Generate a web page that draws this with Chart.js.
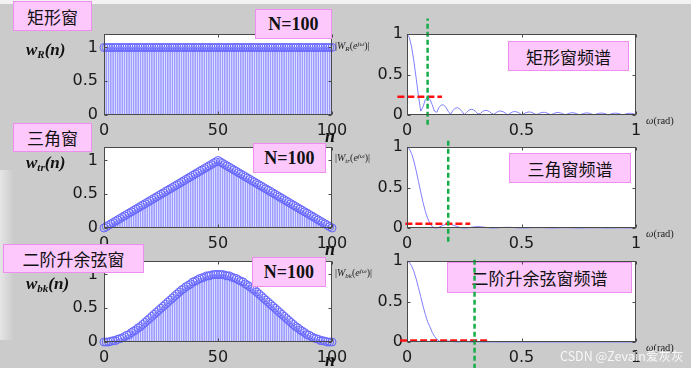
<!DOCTYPE html>
<html><head><meta charset="utf-8">
<script src="https://cdn.jsdelivr.net/npm/chart.js@4.4.1/dist/chart.umd.min.js"></script>
<style>
html{margin:0;padding:0;background:#cbcbcb;overflow:hidden;}
body{margin:0;padding:0;width:691px;height:368px;position:relative;overflow:hidden;background:#cbcbcb;}
.topstrip{position:absolute;left:0;top:0;width:691px;height:4px;background:#f2f2f2;z-index:0;}
.leftpale{position:absolute;left:0;top:170px;width:14px;height:170px;background:linear-gradient(to right,rgba(255,255,255,0.5),rgba(255,255,255,0));z-index:0;}
.plotbg{position:absolute;background:#fff;z-index:1;}
canvas{position:absolute;z-index:3;}
.box{position:absolute;background:#fdc9fd;border:1.5px solid #f08ef0;box-sizing:border-box;display:flex;align-items:center;justify-content:center;color:#111;white-space:nowrap;}
.hi{z-index:5;}
.lo{z-index:2;}
.cn{font-family:"Noto Sans CJK SC";font-size:17px;}
.nb{font-family:"Liberation Serif";font-weight:bold;font-size:18px;}
.wl{position:absolute;z-index:5;font-family:"Liberation Serif";font-weight:bold;font-style:italic;font-size:17px;line-height:20px;color:#111;white-space:nowrap;}
.wl sub{font-size:11px;vertical-align:-3px;}
.nl{position:absolute;z-index:5;font-family:"Liberation Serif";font-weight:bold;font-style:italic;font-size:18px;line-height:18px;color:#111;}
.yl{position:absolute;z-index:5;font-family:"Liberation Serif";font-size:10px;line-height:12px;color:#222;white-space:nowrap;}
.yl sub,.yl sup{font-size:7px;}
.yl sub{vertical-align:-2px;}
.yl sup{vertical-align:3px;}
.om{position:absolute;z-index:5;font-family:"Liberation Serif";font-size:10.5px;line-height:12px;color:#222;white-space:nowrap;}
.wm{position:absolute;z-index:6;font-family:"Noto Sans CJK SC";font-size:12.5px;color:rgba(255,255,255,0.85);white-space:nowrap;left:560px;top:346px;}
.bot{position:absolute;left:0;top:343px;width:691px;height:25px;background:#cbcbcb;z-index:0;}
</style></head>
<body>
<div class="topstrip"></div>
<div class="bot"></div>
<div class="leftpale"></div>

<div class="box hi cn" style="left:13px;top:1px;width:79px;height:30px;">矩形窗</div>
<div class="box hi nb" style="left:255px;top:9px;width:77px;height:30px;">N=100</div>
<div class="box hi cn" style="left:13px;top:123px;width:79px;height:29px;">三角窗</div>
<div class="box hi nb" style="left:253px;top:143px;width:73px;height:30px;">N=100</div>
<div class="box hi cn" style="left:3px;top:244px;width:141px;height:29px;">二阶升余弦窗</div>
<div class="box hi nb" style="left:252px;top:257px;width:74px;height:30px;">N=100</div>
<div class="box lo cn" style="left:508px;top:41px;width:121px;height:30px;">矩形窗频谱</div>
<div class="box lo cn" style="left:509px;top:153px;width:122px;height:30px;">三角窗频谱</div>
<div class="box lo cn" style="left:447px;top:262px;width:185px;height:31px;">二阶升余弦窗频谱</div>

<div class="wl" style="left:26px;top:40px;"><span>w</span><sub>R</sub>(n)</div>
<div class="wl" style="left:26px;top:153px;"><span>w</span><sub>tr</sub>(n)</div>
<div class="wl" style="left:26px;top:274px;"><span>w</span><sub>bk</sub>(n)</div>

<div class="nl" style="left:325px;top:127px;">n</div>
<div class="nl" style="left:325px;top:240px;">n</div>
<div class="nl" style="left:325px;top:351px;">n</div>

<div class="yl" style="left:335px;top:38px;">|<i>W</i><sub><i>R</i></sub>(<i>e</i><sup><i>jω</i></sup>)|</div>
<div class="yl" style="left:335px;top:150px;">|<i>W</i><sub><i>tr</i></sub>(<i>e</i><sup><i>jω</i></sup>)|</div>
<div class="yl" style="left:335px;top:265px;">|<i>W</i><sub><i>bk</i></sub>(<i>e</i><sup><i>jω</i></sup>)|</div>

<div class="om" style="left:646px;top:115px;"><i>ω</i>(rad)</div>
<div class="om" style="left:646px;top:228px;"><i>ω</i>(rad)</div>
<div class="om" style="left:646px;top:342px;"><i>ω</i>(rad)</div>

<div class="wm">CSDN @Zevain爱灰灰</div>

<script>
// ---------------- DATA ----------------
const n = [0,1,2,3,4,5,6,7,8,9,10,11,12,13,14,15,16,17,18,19,20,21,22,23,24,25,26,27,28,29,30,31,32,33,34,35,36,37,38,39,40,41,42,43,44,45,46,47,48,49,50,51,52,53,54,55,56,57,58,59,60,61,62,63,64,65,66,67,68,69,70,71,72,73,74,75,76,77,78,79,80,81,82,83,84,85,86,87,88,89,90,91,92,93,94,95,96,97,98,99,100];

const rectWin = [1,1,1,1,1,1,1,1,1,1,1,1,1,1,1,1,1,1,1,1,1,1,1,1,1,1,1,1,1,1,1,1,1,1,1,1,1,1,1,1,1,1,1,1,1,1,1,1,1,1,1,1,1,1,1,1,1,1,1,1,1,1,1,1,1,1,1,1,1,1,1,1,1,1,1,1,1,1,1,1,1,1,1,1,1,1,1,1,1,1,1,1,1,1,1,1,1,1,1,1,1];

const triWin = [0,0.02,0.04,0.06,0.08,0.10,0.12,0.14,0.16,0.18,0.20,0.22,0.24,0.26,0.28,0.30,0.32,0.34,0.36,0.38,0.40,0.42,0.44,0.46,0.48,0.50,0.52,0.54,0.56,0.58,0.60,0.62,0.64,0.66,0.68,0.70,0.72,0.74,0.76,0.78,0.80,0.82,0.84,0.86,0.88,0.90,0.92,0.94,0.96,0.98,1.00,
0.98,0.96,0.94,0.92,0.90,0.88,0.86,0.84,0.82,0.80,0.78,0.76,0.74,0.72,0.70,0.68,0.66,0.64,0.62,0.60,0.58,0.56,0.54,0.52,0.50,0.48,0.46,0.44,0.42,0.40,0.38,0.36,0.34,0.32,0.30,0.28,0.26,0.24,0.22,0.20,0.18,0.16,0.14,0.12,0.10,0.08,0.06,0.04,0.02,0];

const hannWin = [0.00,0.00,0.00,0.01,0.02,0.02,0.04,0.05,0.06,0.08,0.10,0.11,0.14,0.16,0.18,0.21,0.23,0.26,0.29,0.32,0.35,0.38,0.41,0.44,0.47,0.50,0.53,0.56,0.59,0.62,0.65,0.68,0.71,0.74,0.77,0.79,0.82,0.84,0.86,0.89,0.90,0.92,0.94,0.95,0.96,0.98,0.98,0.99,1.00,1.00,1.00,
1.00,1.00,0.99,0.98,0.98,0.96,0.95,0.94,0.92,0.90,0.89,0.86,0.84,0.82,0.79,0.77,0.74,0.71,0.68,0.65,0.62,0.59,0.56,0.53,0.50,0.47,0.44,0.41,0.38,0.35,0.32,0.29,0.26,0.23,0.21,0.18,0.16,0.14,0.11,0.10,0.08,0.06,0.05,0.04,0.02,0.02,0.01,0.00,0.00,0.00];

const omega = [0,0.01,0.02,0.03,0.04,0.05,0.06,0.07,0.08,0.09,0.10,0.11,0.12,0.13,0.14,0.15,0.16,0.17,0.18,0.19,0.20,0.21,0.22,0.23,0.24,0.25,0.26,0.27,0.28,0.29,0.30,0.31,0.32,0.33,0.34,0.35,0.36,0.37,0.38,0.39,0.40,0.41,0.42,0.43,0.44,0.45,0.46,0.47,0.48,0.49,0.50,0.51,0.52,0.53,0.54,0.55,0.56,0.57,0.58,0.59,0.60,0.61,0.62,0.63,0.64,0.65,0.66,0.67,0.68,0.69,0.70,0.71,0.72,0.73,0.74,0.75,0.76,0.77,0.78,0.79,0.80,0.81,0.82,0.83,0.84,0.85,0.86,0.87,0.88,0.89,0.90,0.91,0.92,0.93,0.94,0.95,0.96,0.97,0.98,0.99,1.00];

const rectSpec = [1.000,0.959,0.841,0.665,0.455,0.239,0.047,0.100,0.189,0.217,
0.192,0.128,0.047,0.033,0.094,0.125,0.124,0.094,0.046,0.008,
0.054,0.084,0.091,0.076,0.045,0.005,0.032,0.060,0.071,0.064,
0.043,0.013,0.018,0.043,0.057,0.056,0.042,0.018,0.008,0.031,
0.046,0.049,0.040,0.022,0.000,0.022,0.037,0.043,0.038,0.024,
0.005,0.014,0.030,0.037,0.036,0.026,0.010,0.008,0.023,0.032,
0.033,0.026,0.013,0.003,0.018,0.028,0.031,0.026,0.016,0.002,
0.012,0.023,0.028,0.026,0.018,0.005,0.008,0.019,0.025,0.025,
0.019,0.008,0.004,0.015,0.022,0.024,0.020,0.011,0.000,0.012,
0.020,0.023,0.020,0.013,0.003,0.008,0.017,0.021,0.020,0.015,
0.005];

const triSpec = [1.000,0.979,0.919,0.826,0.708,0.576,0.442,0.316,0.207,0.120,
0.057,0.019,0.002,0.001,0.010,0.023,0.036,0.044,0.047,0.044,
0.037,0.027,0.017,0.008,0.002,0.000,0.001,0.004,0.009,0.013,
0.016,0.017,0.015,0.013,0.009,0.005,0.002,0.000,0.000,0.001,
0.003,0.005,0.007,0.008,0.008,0.008,0.006,0.004,0.002,0.001,
0.000,0.000,0.001,0.002,0.003,0.004,0.005,0.005,0.005,0.004,
0.003,0.002,0.001,0.000,0.000,0.001,0.002,0.003,0.003,0.004,
0.003,0.003,0.002,0.001,0.000,0.000,0.000,0.001,0.002,0.002,
0.002,0.002,0.003,0.002,0.002,0.001,0.001,0.000,0.000,0.000,
0.001,0.001,0.002,0.002,0.002,0.002,0.001,0.001,0.001,0.000,
0.000];

const hannSpec = [1.000,0.985,0.940,0.870,0.780,0.670,0.560,0.445,0.340,0.250,
0.190,0.120,0.070,0.035,0.012,0.002,0.006,0.010,0.012,0.010,
0.006,0.002,0.000,0.002,0.004,0.005,0.004,0.002,0.000,0.001,
0.002,0.002,0.002,0.001,0.000,0.001,0.001,0.001,0.001,0.000,
0.000,0.000,0.000,0.000,0.000,0.000,0.000,0.000,0.000,0.000,
0.000,0.000,0.000,0.000,0.000,0.000,0.000,0.000,0.000,0.000,
0.000,0.000,0.000,0.000,0.000,0.000,0.000,0.000,0.000,0.000,
0.000,0.000,0.000,0.000,0.000,0.000,0.000,0.000,0.000,0.000,
0.000,0.000,0.000,0.000,0.000,0.000,0.000,0.000,0.000,0.000,
0.000,0.000,0.000,0.000,0.000,0.000,0.000,0.000,0.000,0.000,
0.000];

const nTicks = [0, 50, 100];
const winTicks = [0, 0.5, 1];
const wTicks = [0, 0.5, 1];
const specTicks = [0, 0.5, 1];

// guide lines (green vertical at omega, red horizontal at level)
const greenOmega = [0.09, 0.18, 0.295];
const greenSpan = [[-0.12, 1.19], [-0.17, 1.11], [-0.33, 1.05]];
const redLevel = [0.226, 0.052, 0.02];
const redSpan = [[-0.042, 0.153], [-0.007, 0.276], [-0.03, 0.355]];

// ---------------- DRAWING ----------------
const TICK_FONT = {family: 'DejaVu Sans', size: 16};
const TICK_COLOR = '#1a1a1a';

const framePlugin = {
  id: 'frame',
  afterDraw(chart) {
    const {ctx, chartArea: a, scales} = chart;
    ctx.save();
    ctx.strokeStyle = '#4a4a4a';
    ctx.lineWidth = 1;
    ctx.setLineDash([]);
    const L = Math.round(a.left) + 0.5, R = Math.round(a.right) - 0.5;
    const T = Math.round(a.top) + 0.5, B = Math.round(a.bottom) - 0.5;
    ctx.strokeRect(L, T, R - L, B - T);
    const tl = 3;
    ctx.beginPath();
    scales.x.ticks.forEach(t => {
      const px = Math.round(scales.x.getPixelForValue(t.value)) + 0.5;
      ctx.moveTo(px, B); ctx.lineTo(px, B - tl);
      ctx.moveTo(px, T); ctx.lineTo(px, T + tl);
    });
    scales.y.ticks.forEach(t => {
      const py = Math.round(scales.y.getPixelForValue(t.value)) + 0.5;
      ctx.moveTo(L, py); ctx.lineTo(L + tl, py);
      ctx.moveTo(R, py); ctx.lineTo(R - tl, py);
    });
    ctx.stroke();
    ctx.restore();
  }
};

function axis(min, max, ticks, fitProp, fitVal, pad) {
  return {
    type: 'linear', min, max, offset: false,
    grid: {display: false, drawTicks: false, offset: false},
    border: {display: false},
    ticks: {padding: pad, font: TICK_FONT, color: TICK_COLOR, maxRotation: 0, autoSkip: false,
            callback: v => String(Math.round(v * 100) / 100)},
    afterBuildTicks: s => { s.ticks = ticks.map(v => ({value: v})); },
    afterFit: s => { s[fitProp] = fitVal; }
  };
}

function makeCanvas(area, m) {
  const bg = document.createElement('div');
  bg.className = 'plotbg';
  Object.assign(bg.style, {left: area.l + 'px', top: area.t + 'px', width: area.w + 'px', height: area.h + 'px'});
  document.body.appendChild(bg);
  const c = document.createElement('canvas');
  const W = area.w + m.l + m.r, H = area.h + m.t + m.b;
  c.width = W; c.height = H;
  Object.assign(c.style, {left: (area.l - m.l) + 'px', top: (area.t - m.t) + 'px', width: W + 'px', height: H + 'px'});
  document.body.appendChild(c);
  return c;
}

function stemChart(area, values) {
  const m = {l: 60, t: 16, r: 22, b: 26};
  const c = makeCanvas(area, m);
  const pts = n.map((x, i) => ({x: x, y: values[i]}));
  new Chart(c, {
    type: 'bar',
    data: {datasets: [
      {type: 'scatter', data: pts, showLine: false, pointRadius: 4, pointBorderWidth: 1,
       pointBorderColor: '#6464ff', pointBackgroundColor: 'rgba(0,0,0,0)', clip: false, order: 1},
      {type: 'bar', data: pts, backgroundColor: '#9c9cff', barThickness: 1, grouped: false, order: 2}
    ]},
    options: {
      responsive: false, animation: false, devicePixelRatio: 1,
      layout: {padding: {left: 0, top: m.t, right: m.r, bottom: 0}},
      plugins: {legend: {display: false}, tooltip: {enabled: false}},
      scales: {
        x: axis(0, 100, nTicks, 'height', m.b, 6),
        y: axis(0, 1.2, winTicks, 'width', m.l, 6)
      }
    },
    plugins: [framePlugin]
  });
}

function specChart(area, spec, k) {
  const m = {l: 50, t: 20, r: 22, b: 28};
  const c = makeCanvas(area, m);
  new Chart(c, {
    type: 'line',
    data: {datasets: [
      {data: omega.map((w, i) => ({x: w, y: spec[i]})), borderColor: '#7f7fff', borderWidth: 1,
       pointRadius: 0, tension: 0, clip: false, order: 3},
      {data: [{x: redSpan[k][0], y: redLevel[k]}, {x: redSpan[k][1], y: redLevel[k]}],
       borderColor: '#ff1010', borderWidth: 2.5, borderDash: [7, 3], pointRadius: 0, clip: false, order: 2},
      {data: [{x: greenOmega[k], y: greenSpan[k][0]}, {x: greenOmega[k], y: greenSpan[k][1]}],
       borderColor: '#17ad4a', borderWidth: 2.5, borderDash: [5, 3], pointRadius: 0, clip: false, order: 1}
    ]},
    options: {
      responsive: false, animation: false, devicePixelRatio: 1,
      layout: {padding: {left: 0, top: m.t, right: m.r, bottom: 0}},
      plugins: {legend: {display: false}, tooltip: {enabled: false}},
      scales: {
        x: axis(0, 1, specTicks, 'height', m.b, 6),
        y: axis(0, 1, wTicks, 'width', m.l, 4)
      }
    },
    plugins: [framePlugin]
  });
}

stemChart({l: 104, t: 34, w: 228, h: 81}, rectWin);
stemChart({l: 104, t: 147, w: 228, h: 81}, triWin);
stemChart({l: 104, t: 261, w: 228, h: 81}, hannWin);
specChart({l: 407, t: 34, w: 229, h: 81}, rectSpec, 0);
specChart({l: 407, t: 147, w: 229, h: 81}, triSpec, 1);
specChart({l: 407, t: 261, w: 229, h: 81}, hannSpec, 2);
</script>
</body></html>
